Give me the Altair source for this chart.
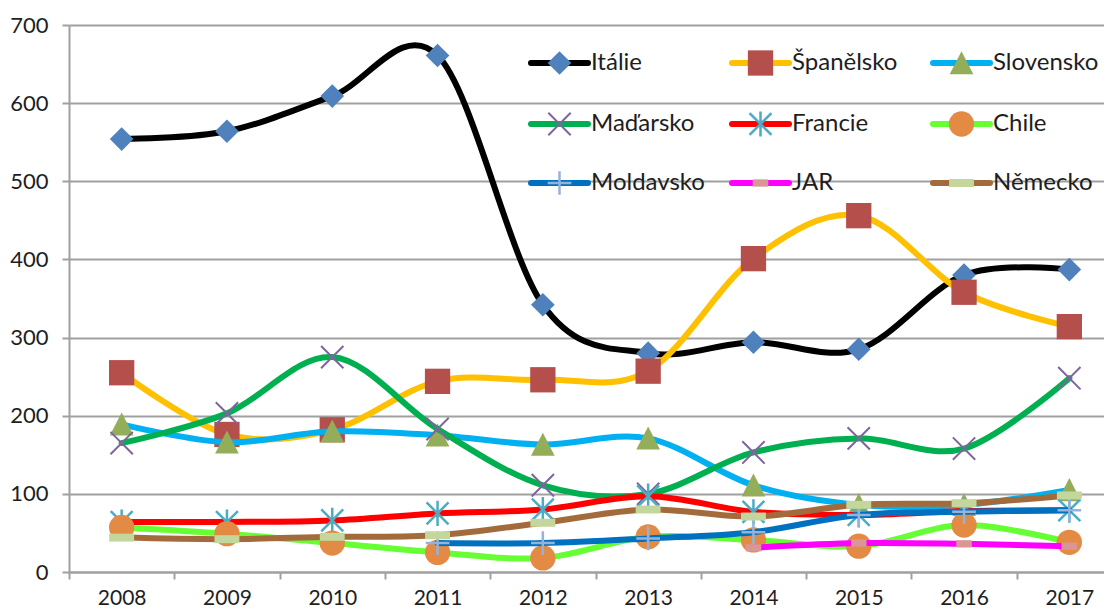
import altair as alt
import pandas as pd

# ---------------- data ----------------
years = [2008, 2009, 2010, 2011, 2012, 2013, 2014, 2015, 2016, 2017]
series_names = ["Itálie", "Španělsko", "Slovensko", "Maďarsko", "Francie",
                "Chile", "Moldavsko", "JAR", "Německo"]

italie = [554, 564, 609, 661, 342, 280, 294, 285, 380, 387]
spanelsko = [255, 176, 182, 244, 246, 257, 401, 456, 358, 314]
slovensko = [189, 166, 180, 175, 163, 171, 111, 86, 86, 105]
madarsko = [165, 203, 275, 183, 111, 100, 153, 171, 158, 248]
francie = [64, 64, 66, 75, 80, 97, 77, 73, 78, 79]
chile = [57, 49, 37, 25, 18, 45, 41, 33, 60, 38]
moldavsko = [None, None, None, 37, 37, 43, 51, 73, 77, 79]
jar = [None, None, None, None, None, None, 31, 37, 36, 33]
nemecko = [44, 42, 45, 47, 63, 80, 71, 86, 88, 98]

all_values = [italie, spanelsko, slovensko, madarsko, francie, chile,
              moldavsko, jar, nemecko]

y_ticks = [0, 100, 200, 300, 400, 500, 600, 700]

# ---------------- styles ----------------
line_colors = ["#000000", "#FFC000", "#00B0F0", "#00B050", "#FF0000",
               "#66FF33", "#0070C0", "#FF00FF", "#A36B3B"]

X_PATH = "M-1,-1L1,1M-1,1L1,-1"
STAR_PATH = "M-1,-1L1,1M-1,1L1,-1M0,-1.15L0,1.15"
PLUS_PATH = "M-1,0L1,0M0,-1L0,1"
TRI_PATH = "M0,-1L1,0.95L-1,0.95Z"
DASH_SMALL = "M-1,-0.47L1,-0.47L1,0.47L-1,0.47Z"
DASH_WIDE = "M-1,-0.32L1,-0.32L1,0.32L-1,0.32Z"

marker_styles = [
    dict(shape="diamond", filled=True, color="#4F81BD", size=560),
    dict(shape="square", filled=True, color="#B44F4C", size=640),
    dict(shape=TRI_PATH, filled=True, color="#93AD58", size=560),
    dict(shape=X_PATH, filled=False, color="#7F64A0", size=500, sw=2),
    dict(shape=STAR_PATH, filled=False, color="#4BACC6", size=480, sw=2.5),
    dict(shape="circle", filled=True, color="#E38B45", size=640),
    dict(shape=PLUS_PATH, filled=False, color="#95B3D7", size=560, sw=2.5),
    dict(shape=DASH_SMALL, filled=True, color="#D99694", size=240),
    dict(shape=DASH_WIDE, filled=True, color="#C3D69B", size=620),
]

GRAY = "#A0A0A0"
TEXT = "#1E1E1E"
FONT = "Lato"

# layout constants (pixels)
PAD_L = 61
PLOT_W = 1035
PLOT_H = 547
BAND = 105.3
X_MIN = 2007.5
X_MAX = X_MIN + PLOT_W / BAND

LEG_COL_X = [462, 663, 864]
LEG_ROW_Y = [38, 99, 158]
LEG_LINE = 57
LEG_TEXT_DX = 60

# ---------------- table ----------------
rows = []
for name, vals in zip(series_names, all_values):
    for yr, v in zip(years, vals):
        if v is not None:
            rows.append({"series": name, "year": yr, "value": v})
df = pd.DataFrame(rows)

boundaries = [yr - 0.5 for yr in years]

x_scale = alt.Scale(domain=[X_MIN, X_MAX], nice=False, zero=False)
y_scale = alt.Scale(domain=[0, 700], nice=False, zero=True)

# axis with the year labels (no ticks)
x_axis_labels = alt.Axis(
    values=years, format="d", orient="bottom",
    ticks=False, domain=True, domainColor=GRAY, domainWidth=2, grid=False,
    labelFont=FONT, labelFontSize=21, labelColor=TEXT, labelPadding=15,
    labelOverlap=False, labelFlush=False, title=None,
)
# axis with tick marks between the categories (no labels)
x_axis_ticks = alt.Axis(
    values=boundaries, orient="bottom", labels=False,
    ticks=True, tickSize=7, tickColor=GRAY, tickWidth=2,
    domain=False, grid=False, title=None,
)
y_axis = alt.Axis(
    values=y_ticks, format="d",
    tickSize=7, tickColor=GRAY, tickWidth=2,
    domainColor=GRAY, domainWidth=2,
    grid=True, gridColor=GRAY, gridWidth=2,
    labelFont=FONT, labelFontSize=22, labelColor=TEXT, labelPadding=14,
    title=None,
)


def point_kw(st):
    kw = dict(shape=st["shape"], filled=st["filled"], color=st["color"],
              size=st["size"], opacity=1)
    kw["strokeWidth"] = 0 if st["filled"] else st["sw"]
    return kw


layers = []
for i, name in enumerate(series_names):
    st = marker_styles[i]
    base_filter = alt.datum.series == name
    if i == 0:
        xenc = alt.X("year:Q", scale=x_scale, axis=x_axis_labels)
        yenc = alt.Y("value:Q", scale=y_scale, axis=y_axis)
        pxenc = alt.X("year:Q", scale=x_scale, axis=x_axis_ticks)
    else:
        xenc = alt.X("year:Q", scale=x_scale, axis=None)
        yenc = alt.Y("value:Q", scale=y_scale)
        pxenc = alt.X("year:Q", scale=x_scale, axis=None)
    line = alt.Chart(df).mark_line(
        interpolate="cardinal", tension=0, strokeWidth=6,
        color=line_colors[i], strokeCap="round", strokeJoin="round",
    ).encode(x=xenc, y=yenc, order="year:Q").transform_filter(base_filter)
    pts = alt.Chart(df).mark_point(**point_kw(st)).encode(
        x=pxenc, y=alt.Y("value:Q", scale=y_scale)
    ).transform_filter(base_filter)
    layers += [line, pts]

# ---------------- legend (inside plot) ----------------
leg_df = pd.DataFrame({"series": series_names})
for i, name in enumerate(series_names):
    st = marker_styles[i]
    lx = LEG_COL_X[i % 3]
    ly = LEG_ROW_Y[i // 3]
    one = alt.Chart(leg_df).transform_filter(alt.datum.series == name)
    leg_line = one.mark_rule(
        color=line_colors[i], strokeWidth=6, strokeCap="round"
    ).encode(x=alt.value(lx), x2=alt.value(lx + LEG_LINE), y=alt.value(ly))
    leg_pt = one.mark_point(**point_kw(st)).encode(
        x=alt.value(lx + LEG_LINE / 2), y=alt.value(ly))
    leg_txt = one.mark_text(
        align="left", baseline="middle", font=FONT, fontSize=24, color=TEXT
    ).encode(text="series:N", x=alt.value(lx + LEG_TEXT_DX), y=alt.value(ly))
    layers += [leg_line, leg_pt, leg_txt]

chart = alt.layer(*layers).resolve_axis(x="independent").properties(
    width=PLOT_W, height=PLOT_H,
    autosize=alt.AutoSizeParams(type="none"),
    padding={"left": PAD_L, "top": 17, "right": 0, "bottom": 40},
    background="white",
).configure_view(strokeWidth=0)

chart.save("out.html", embed_options={"renderer": "svg", "actions": False})
